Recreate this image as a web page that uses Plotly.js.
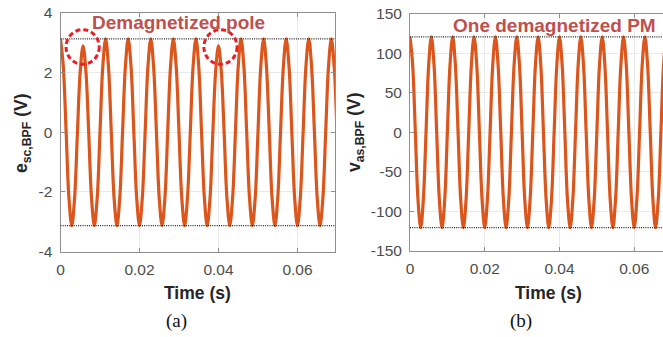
<!DOCTYPE html>
<html>
<head>
<meta charset="utf-8">
<script src="https://cdn.plot.ly/plotly-3.0.1.min.js"></script>
<style>html,body{margin:0;padding:0;background:#fff;}#plot{width:663px;height:337px;}</style>
</head>
<body>
<div id="plot"></div>
<script>
// Time samples (s), shared by both panels (every 1/8 of an electrical period)
var time = [
  0, 0.00071, 0.00143, 0.00214, 0.00286, 0.00357, 0.00429, 0.005,
  0.00571, 0.00643, 0.00714, 0.00786, 0.00857, 0.00929, 0.01, 0.01071,
  0.01143, 0.01214, 0.01286, 0.01357, 0.01429, 0.015, 0.01571, 0.01643,
  0.01714, 0.01786, 0.01857, 0.01929, 0.02, 0.02071, 0.02143, 0.02214,
  0.02286, 0.02357, 0.02429, 0.025, 0.02571, 0.02643, 0.02714, 0.02786,
  0.02857, 0.02929, 0.03, 0.03071, 0.03143, 0.03214, 0.03286, 0.03357,
  0.03429, 0.035, 0.03571, 0.03643, 0.03714, 0.03786, 0.03857, 0.03929,
  0.04, 0.04071, 0.04143, 0.04214, 0.04286, 0.04357, 0.04429, 0.045,
  0.04571, 0.04643, 0.04714, 0.04786, 0.04857, 0.04929, 0.05, 0.05071,
  0.05143, 0.05214, 0.05286, 0.05357, 0.05429, 0.055, 0.05571, 0.05643,
  0.05714, 0.05786, 0.05857, 0.05929, 0.06, 0.06071, 0.06143, 0.06214,
  0.06286, 0.06357, 0.06429, 0.065, 0.06571, 0.06643, 0.06714, 0.06786,
  0.06857, 0.06929, 0.07
];

// (a) e_sc,BPF (V) - two demagnetized peaks
var eSc = [
  3.13, 2.21, 0, -2.21, -3.13, -2.21, 0, 2.05,
  2.9, 2.05, 0, -2.21, -3.13, -2.21, 0, 2.21,
  3.13, 2.21, 0, -2.21, -3.13, -2.21, 0, 2.21,
  3.13, 2.21, 0, -2.21, -3.13, -2.21, 0, 2.21,
  3.13, 2.21, 0, -2.21, -3.13, -2.21, 0, 2.21,
  3.13, 2.21, 0, -2.21, -3.13, -2.21, 0, 2.21,
  3.13, 2.21, 0, -2.21, -3.13, -2.21, 0, 2.05,
  2.9, 2.05, 0, -2.21, -3.13, -2.21, 0, 2.21,
  3.13, 2.21, 0, -2.21, -3.13, -2.21, 0, 2.21,
  3.13, 2.21, 0, -2.21, -3.13, -2.21, 0, 2.21,
  3.13, 2.21, 0, -2.21, -3.13, -2.21, 0, 2.21,
  3.13, 2.21, 0, -2.21, -3.13, -2.21, 0, 2.21,
  3.13, 2.21, 0
];

// (b) v_as,BPF (V)
var vAs = [
  121, 85.5, 0, -85.5, -121, -85.5, 0, 85.5,
  121, 85.5, 0, -85.5, -121, -85.5, 0, 85.5,
  121, 85.5, 0, -85.5, -121, -85.5, 0, 85.5,
  121, 85.5, 0, -85.5, -121, -85.5, 0, 85.5,
  121, 85.5, 0, -85.5, -121, -85.5, 0, 85.5,
  121, 85.5, 0, -85.5, -121, -85.5, 0, 85.5,
  121, 85.5, 0, -85.5, -121, -85.5, 0, 85.5,
  121, 85.5, 0, -85.5, -121, -85.5, 0, 85.5,
  121, 85.5, 0, -85.5, -121, -85.5, 0, 85.5,
  121, 85.5, 0, -85.5, -121, -85.5, 0, 85.5,
  121, 85.5, 0, -85.5, -121, -85.5, 0, 85.5,
  121, 85.5, 0, -85.5, -121, -85.5, 0, 85.5,
  121, 85.5, 0
];

// Reference (dotted) levels
var levelsA = [3.13, -3.13];
var levelsB = [121, -121];

// Demagnetized pole markers (centre time, centre value)
var circleT = [0.0056, 0.0405];
var circleV = [2.86, 2.86];

// Tick values / labels
var xTickVals = [0, 0.02, 0.04, 0.06];
var xTickText = ["0", "0.02", "0.04", "0.06"];
var yTickValsA = [-4, -2, 0, 2, 4];
var yTickTextA = ["-4", "-2", "0", "2", "4"];
var yTickValsB = [-150, -100, -50, 0, 50, 100, 150];
var yTickTextB = ["-150", "-100", "-50", "0", "50", "100", "150"];

var W = 663, H = 337;
function px(x) { return x / W; }
function py(y) { return 1 - y / H; }

var lineColor = "#db561c";
var tickFont = {family: "Liberation Sans, Arial, sans-serif", size: 15.5, color: "#4d4d4d"};
var axisCol = "#8f8f8f";

var traces = [
  {x: time, y: eSc, xaxis: "x", yaxis: "y", type: "scatter", mode: "lines",
   line: {color: lineColor, width: 3.2, shape: "spline", smoothing: 1}, hoverinfo: "skip"},
  {x: time, y: vAs, xaxis: "x2", yaxis: "y2", type: "scatter", mode: "lines",
   line: {color: lineColor, width: 3.2, shape: "spline", smoothing: 1}, hoverinfo: "skip"}
];

var shapes = [];
levelsA.forEach(function (v) {
  shapes.push({type: "line", xref: "x domain", yref: "y", x0: 0, x1: 1, y0: v, y1: v,
    line: {color: "#222", width: 1.2, dash: "1px,1.2px"}, layer: "above"});
});
levelsB.forEach(function (v) {
  shapes.push({type: "line", xref: "x2 domain", yref: "y2", x0: 0, x1: 1, y0: v, y1: v,
    line: {color: "#222", width: 1.2, dash: "1px,1.2px"}, layer: "above"});
});
var rT = 0.0042, rV = 0.58;
circleT.forEach(function (t, i) {
  shapes.push({type: "circle", xref: "x", yref: "y",
    x0: t - rT, x1: t + rT, y0: circleV[i] - rV, y1: circleV[i] + rV,
    line: {color: "#ee1c24", width: 3, dash: "5px,3px"}, layer: "above"});
});

function axX(domain, range) {
  return {domain: domain, range: range, tickvals: xTickVals, ticktext: xTickText,
    showgrid: true, gridcolor: "#e9e9e9", gridwidth: 1, zeroline: false,
    showline: true, linecolor: axisCol, linewidth: 1, mirror: "ticks",
    ticks: "inside", ticklen: 4, tickcolor: axisCol, tickfont: tickFont,
    ticklabelstandoff: 4, fixedrange: true};
}
function axY(domain, range, vals, text, mirror) {
  return {domain: domain, range: range, tickvals: vals, ticktext: text,
    showgrid: true, gridcolor: "#e9e9e9", gridwidth: 1, zeroline: false,
    showline: true, linecolor: axisCol, linewidth: 1, mirror: mirror,
    ticks: "inside", ticklen: 4, tickcolor: axisCol, tickfont: tickFont,
    ticklabelstandoff: 4, fixedrange: true};
}

var boldFont = {family: "Liberation Sans, Arial, sans-serif", size: 17.5, color: "#262626"};
var noteFont = {family: "Liberation Sans, Arial, sans-serif", size: 19, color: "#c0504d"};
var capFont = {family: "Liberation Serif, Times New Roman, serif", size: 19, color: "#111"};

var annotations = [
  {xref: "paper", yref: "paper", x: px(197.5), y: py(293), text: "<b>Time (s)</b>",
   showarrow: false, font: boldFont, xanchor: "center", yanchor: "middle"},
  {xref: "paper", yref: "paper", x: px(548), y: py(293), text: "<b>Time (s)</b>",
   showarrow: false, font: boldFont, xanchor: "center", yanchor: "middle"},
  {xref: "paper", yref: "paper", x: px(22), y: py(134), text: "<b>e<sub>sc,BPF</sub> (V)</b>",
   textangle: -90, showarrow: false, font: boldFont, xanchor: "center", yanchor: "middle"},
  {xref: "paper", yref: "paper", x: px(355), y: py(133), text: "<b>v<sub>as,BPF</sub> (V)</b>",
   textangle: -90, showarrow: false, font: boldFont, xanchor: "center", yanchor: "middle"},
  {xref: "paper", yref: "paper", x: px(178.5), y: py(22), text: "<b>Demagnetized pole</b>",
   showarrow: false, font: noteFont, xanchor: "center", yanchor: "middle"},
  {xref: "paper", yref: "paper", x: px(554), y: py(25), text: "<b>One demagnetized PM</b>",
   showarrow: false, font: noteFont, xanchor: "center", yanchor: "middle"},
  {xref: "paper", yref: "paper", x: px(176.5), y: py(320.5), text: "(a)",
   showarrow: false, font: capFont, xanchor: "center", yanchor: "middle"},
  {xref: "paper", yref: "paper", x: px(520.5), y: py(320.5), text: "(b)",
   showarrow: false, font: capFont, xanchor: "center", yanchor: "middle"}
];

var layout = {
  width: W, height: H,
  margin: {l: 0, r: 0, t: 0, b: 0, pad: 0},
  paper_bgcolor: "#fff", plot_bgcolor: "#fff",
  showlegend: false,
  xaxis: axX([px(60.5), px(335)], [0, 0.0695]),
  yaxis: axY([py(251.5), py(13)], [-4, 4], yTickValsA, yTickTextA, "ticks"),
  xaxis2: axX([px(410), 1], [0, 0.0677]),
  yaxis2: axY([py(250.5), py(14)], [-150, 150], yTickValsB, yTickTextB, false),
  shapes: shapes,
  annotations: annotations
};
layout.xaxis2.anchor = "y2";
layout.yaxis2.anchor = "x2";

Plotly.newPlot("plot", traces, layout, {displayModeBar: false, staticPlot: true});
</script>
</body>
</html>
